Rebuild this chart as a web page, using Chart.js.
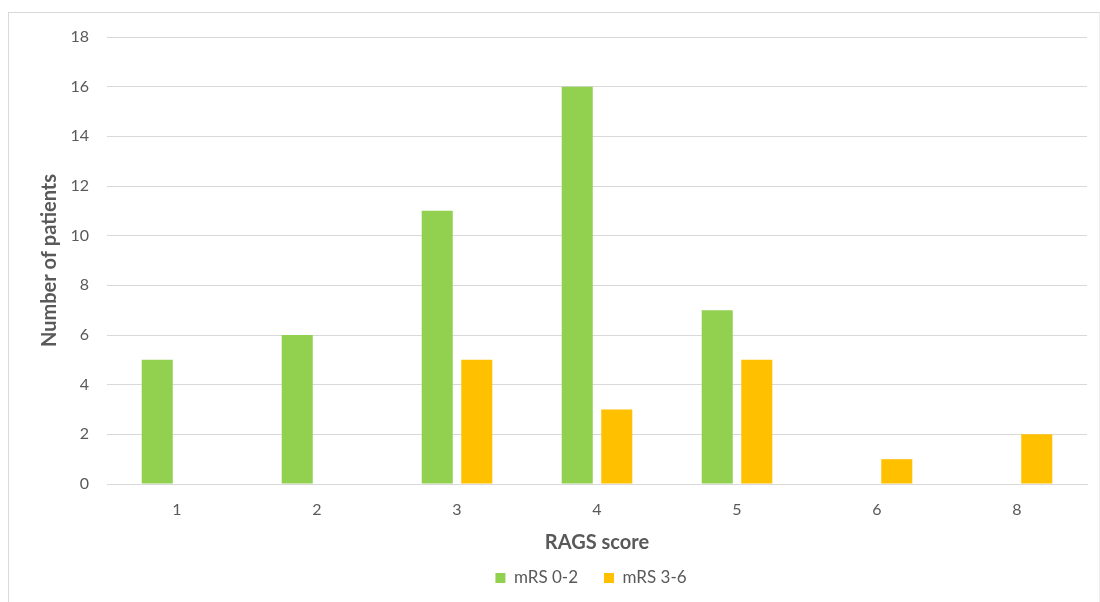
<!DOCTYPE html>
<html>
<head>
<meta charset="utf-8">
<script src="https://cdn.jsdelivr.net/npm/chart.js@4"></script>
<style>
  html, body { margin: 0; padding: 0; background: #fff; }
  #wrap { position: relative; width: 1100px; height: 602px; overflow: hidden; }
  #frame { position: absolute; left: 8px; top: 12px; width: 1090px; height: 600px;
           border-top: 1px solid #d9d9d9; border-left: 1px solid #d9d9d9; border-right: 1px solid #eeeeee; }
  canvas { position: absolute; left: 0; top: 0; }
</style>
</head>
<body>
<div id="wrap">
  <div id="frame"></div>
  <canvas id="c" width="1100" height="602"></canvas>
</div>
<script>
// RAGS score groups and patient counts per outcome group
const categories = ['1', '2', '3', '4', '5', '6', '8'];
const mrs02 = [5, 6, 11, 16, 7, 0, 0];
const mrs36 = [0, 0, 5, 3, 5, 1, 2];
const yTicks = [0, 2, 4, 6, 8, 10, 12, 14, 16, 18];

const FONT = "Lato, 'Open Sans', sans-serif";
const TEXT = '#595959';

// Center the legend under the plot area instead of the whole canvas
const legendUnderPlot = {
  id: 'legendUnderPlot',
  afterLayout(chart) {
    const lg = chart.legend, area = chart.chartArea;
    if (!lg) return;
    const shift = (area.left + area.right) / 2 - (lg.left + lg.right) / 2 - 6;
    lg.left += shift;
    lg.right += shift;
  }
};

new Chart(document.getElementById('c'), {
  type: 'bar',
  data: {
    labels: categories,
    datasets: [
      { label: 'mRS 0-2', data: mrs02, backgroundColor: '#92d050',
        categoryPercentage: 0.565, barPercentage: 0.785 },
      { label: 'mRS 3-6', data: mrs36, backgroundColor: '#ffc000',
        categoryPercentage: 0.565, barPercentage: 0.785 }
    ]
  },
  plugins: [legendUnderPlot],
  options: {
    responsive: false,
    animation: false,
    layout: { padding: { left: 38, top: 37, right: 13, bottom: 5.5 } },
    plugins: {
      tooltip: { enabled: false },
      legend: {
        position: 'bottom',
        labels: {
          color: TEXT,
          font: { family: FONT, size: 17 },
          boxWidth: 10, boxHeight: 10, padding: 26
        }
      }
    },
    scales: {
      x: {
        grid: { display: false, drawTicks: false },
        border: { display: true, color: '#d9d9d9' },
        ticks: { color: TEXT, font: { family: FONT, size: 16 }, padding: 16 },
        title: { display: true, text: 'RAGS score', color: TEXT,
                 font: { family: FONT, size: 20, weight: 'bold' }, padding: { top: 0, bottom: -11.5 } },
        afterFit: s => { s.height = 59.5; }
      },
      y: {
        min: 0, max: 18,
        afterBuildTicks: s => { s.ticks = yTicks.map(v => ({ value: v })); },
        grid: { color: '#d9d9d9', drawTicks: false },
        border: { display: false },
        ticks: { color: TEXT, font: { family: FONT, size: 16 }, padding: 18 },
        title: { display: true, text: 'Number of patients', color: TEXT,
                 font: { family: FONT, size: 20, weight: 'bold' }, padding: { top: 0, bottom: 0 } },
        afterFit: s => { s.width = 69; }
      }
    }
  }
});
</script>
</body>
</html>
